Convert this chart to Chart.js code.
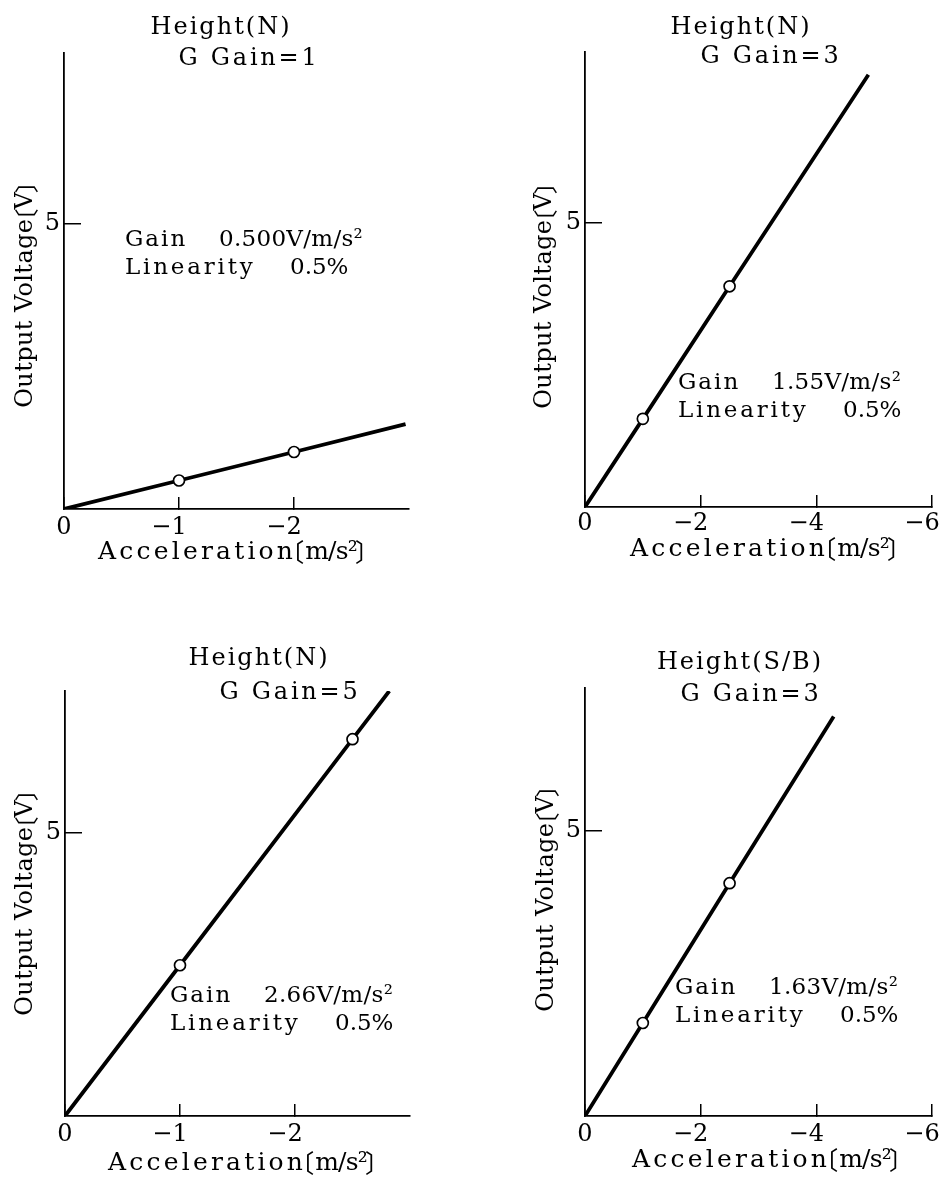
<!DOCTYPE html>
<html>
<head>
<meta charset="utf-8">
<script src="https://cdn.jsdelivr.net/npm/chart.js@4/dist/chart.umd.min.js"></script>
<style>
  body { margin: 0; background: #fff; }
  #sheet { position: relative; width: 946px; height: 1186px; background: #fff; }
  #sheet canvas { position: absolute; }
</style>
</head>
<body>
<div id="sheet">
  <canvas id="chartN1" width="473" height="593" style="left:0;top:0"></canvas>
  <canvas id="chartN3" width="473" height="593" style="left:473px;top:0"></canvas>
  <canvas id="chartN5" width="473" height="593" style="left:0;top:593px"></canvas>
  <canvas id="chartSB3" width="473" height="593" style="left:473px;top:593px"></canvas>
</div>
<script>
// acceleration [m/s2] -> output voltage [V]; middle two points are the measured ones
const accelN1 = [0, -1, -2, -2.97];
const voltN1 = [0, 0.50, 1.00, 1.49];
const accelN3 = [0, -1, -2.5, -4.9];
const voltN3 = [0, 1.55, 3.88, 7.6];
const accelN5 = [0, -1, -2.5, -2.82];
const voltN5 = [0, 2.66, 6.65, 7.5];
const accelSB3 = [0, -1, -2.5, -4.3];
const voltSB3 = [0, 1.63, 4.08, 7.0];

const xTicksShort = [0, -1, -2];
const xTicksLong = [0, -2, -4, -6];
const yTicks = [5];

const SERIF = "'DejaVu Serif', serif";
const CJK = "'Noto Sans CJK JP', sans-serif";
const W = 473, H = 593, Y_AXIS_W = 64;

// axis titles are set piece by piece so the brackets sit tight
const xTitleParts = [
    { text: 'Acceleration', font: '25px ' + SERIF, ls: 3.2 },
    { text: '〔', font: '25px ' + CJK, ls: 0, dx: -17, adv: 9 },
    { text: 'm/s²', font: '25px ' + SERIF, ls: -0.8 },
    { text: '〕', font: '25px ' + CJK, ls: 0, dx: -2, adv: 9 }
];
const yTitleParts = [
    { text: 'Output Voltage', font: '24px ' + SERIF, ls: 0.4 },
    { text: '〔', font: '24px ' + CJK, ls: 0, dx: -14, adv: 9 },
    { text: 'V', font: '24px ' + SERIF, ls: 0 },
    { text: '〕', font: '24px ' + CJK, ls: 0, dx: -1, adv: 8 }
];

function partWidth(ctx, p) {
    if (p.adv !== undefined) return p.adv;
    ctx.font = p.font;
    ctx.letterSpacing = '0px';
    return ctx.measureText(p.text).width + p.ls * p.text.length;
}

function drawRun(ctx, parts, cx, cy) {
    const total = parts.reduce((s, p) => s + partWidth(ctx, p), 0);
    let x = cx - total / 2;
    for (const p of parts) {
        const w = partWidth(ctx, p);
        ctx.font = p.font;
        ctx.letterSpacing = p.ls + 'px';
        ctx.fillText(p.text, x + (p.dx || 0), cy);
        x += w;
    }
}

// headings, axis titles and the gain/linearity note
function textPlugin(p) {
    return {
        id: 'panelText',
        afterDraw(chart) {
            const ctx = chart.ctx;
            const left = chart.chartArea.left;
            ctx.save();
            ctx.fillStyle = '#000';
            ctx.textBaseline = 'middle';
            ctx.textAlign = 'center';
            ctx.font = '24px ' + SERIF;
            ctx.letterSpacing = '2px';
            ctx.fillText(p.heading, left + p.headPos[0], p.headPos[1]);
            ctx.letterSpacing = '2.8px';
            ctx.fillText(p.gGain, left + p.gGainPos[0], p.gGainPos[1]);

            ctx.textAlign = 'left';
            drawRun(ctx, xTitleParts, p.xTitlePos[0], p.xTitlePos[1]);
            ctx.save();
            ctx.translate(p.yTitlePos[0], p.yTitlePos[1]);
            ctx.rotate(-Math.PI / 2);
            drawRun(ctx, yTitleParts, 0, 0);
            ctx.restore();

            ctx.font = '23px ' + SERIF;
            const [nx, ny] = p.notePos;
            ctx.letterSpacing = '2px';
            ctx.fillText('Gain', nx, ny);
            ctx.letterSpacing = '0.3px';
            ctx.fillText(p.gain, nx + 94, ny);
            ctx.letterSpacing = '2.8px';
            ctx.fillText('Linearity', nx, ny + 28.5);
            ctx.letterSpacing = '0px';
            ctx.fillText(p.linearity, nx + 165, ny + 28.5);
            ctx.restore();
        }
    };
}

// digit sits on the tick, the minus sign hangs to the left
const tickLabel = v => v === 0 ? '0' : '\u2212' + Math.abs(v) + '\u2007\u2009';

function drawPanel(canvasId, p) {
    const a = p.area;
    const points = p.accel.map((v, i) => ({ x: v, y: p.volt[i] }));
    const config = {
        type: 'line',
        data: {
            datasets: [{
                data: points,
                borderColor: '#000',
                borderWidth: 3.8,
                pointRadius: [0, 5.5, 5.5, 0],
                pointBorderWidth: 1.7,
                pointBackgroundColor: '#fff',
                pointBorderColor: '#000',
                tension: 0
            }]
        },
        options: {
            responsive: false,
            animation: false,
            devicePixelRatio: 1,
            layout: {
                padding: { left: a.left - Y_AXIS_W, top: a.top, right: W - a.right, bottom: 0 }
            },
            plugins: {
                legend: { display: false },
                tooltip: { enabled: false }
            },
            scales: {
                x: {
                    type: 'linear',
                    position: 'bottom',
                    reverse: true,
                    min: p.xMin,
                    max: 0,
                    afterBuildTicks: s => { s.ticks = p.xTicks.map(v => ({ value: v })); },
                    afterFit: s => { s.height = H - a.bottom; s.paddingLeft = 0; s.paddingRight = 0; },
                    grid: { drawOnChartArea: false, tickLength: -12, color: '#000', lineWidth: 1.5 },
                    border: { color: '#000', width: 1.8 },
                    ticks: {
                        color: '#000',
                        font: { family: SERIF, size: 24 },
                        padding: p.xTickPad,
                        maxRotation: 0,
                        autoSkip: false,
                        callback: tickLabel
                    }
                },
                y: {
                    type: 'linear',
                    min: 0,
                    max: p.yMax,
                    afterBuildTicks: s => { s.ticks = yTicks.map(v => ({ value: v })); },
                    afterFit: s => { s.width = Y_AXIS_W; s.paddingTop = 0; s.paddingBottom = 0; },
                    grid: { drawOnChartArea: false, tickLength: -17, color: '#000', lineWidth: 1.5 },
                    border: { color: '#000', width: 1.8 },
                    ticks: { color: '#000', font: { family: SERIF, size: 24 }, padding: 21 }
                }
            }
        },
        plugins: [textPlugin(p)]
    };
    new Chart(document.getElementById(canvasId), config);
}

drawPanel('chartN1', {
    accel: accelN1, volt: voltN1, xTicks: xTicksShort, xMin: -3, yMax: 8,
    area: { left: 64, top: 53, right: 409, bottom: 509 },
    xTickPad: 16, xTitlePos: [232, 552], yTitlePos: [26, 296],
    heading: 'Height(N)', headPos: [157, 28], gGain: 'G Gain=1', gGainPos: [185, 59],
    gain: '0.500V/m/s²', linearity: '0.5%', notePos: [125, 240]
});
drawPanel('chartN3', {
    accel: accelN3, volt: voltN3, xTicks: xTicksLong, xMin: -6, yMax: 8,
    area: { left: 112, top: 52, right: 459, bottom: 507 },
    xTickPad: 14, xTitlePos: [291, 549], yTitlePos: [72, 297],
    heading: 'Height(N)', headPos: [156, 28], gGain: 'G Gain=3', gGainPos: [186, 57],
    gain: '1.55V/m/s²', linearity: '0.5%', notePos: [205, 383]
});
drawPanel('chartN5', {
    accel: accelN5, volt: voltN5, xTicks: xTicksShort, xMin: -3, yMax: 7.5,
    area: { left: 65, top: 98, right: 410, bottom: 523 },
    xTickPad: 16, xTitlePos: [242, 570], yTitlePos: [26, 311],
    heading: 'Height(N)', headPos: [194, 66], gGain: 'G Gain=5', gGainPos: [225, 100],
    gain: '2.66V/m/s²', linearity: '0.5%', notePos: [170, 403]
});
drawPanel('chartSB3', {
    accel: accelSB3, volt: voltSB3, xTicks: xTicksLong, xMin: -6, yMax: 7.5,
    area: { left: 112, top: 95, right: 459, bottom: 523 },
    xTickPad: 16, xTitlePos: [293, 567], yTitlePos: [74, 307],
    heading: 'Height(S/B)', headPos: [155, 70], gGain: 'G Gain=3', gGainPos: [166, 102],
    gain: '1.63V/m/s²', linearity: '0.5%', notePos: [202, 395]
});
</script>
</body>
</html>
